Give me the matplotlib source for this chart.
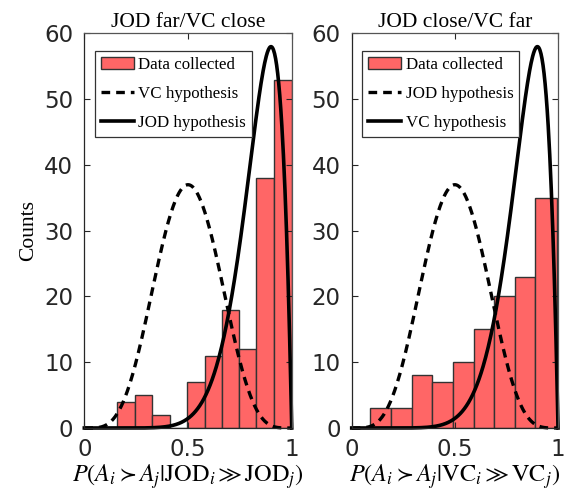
import numpy as np
import matplotlib
matplotlib.use("Agg")
import matplotlib.pyplot as plt

# ---------------- data ----------------
left_title = "JOD far/VC close"
right_title = "JOD close/VC far"

left_edges = [0.158, 0.244, 0.326, 0.413, 0.495, 0.581, 0.664, 0.746, 0.828, 0.915, 1.0]
left_counts = [4, 5, 2, 0, 7, 11, 18, 12, 38, 53]

right_edges = [0.090, 0.191, 0.290, 0.390, 0.491, 0.592, 0.691, 0.792, 0.890, 0.993]
right_counts = [3, 3, 8, 7, 10, 15, 20, 23, 35]

# hypothesis curves: scaled beta densities (shape a, shape b, peak count)
null_shape = (5.5, 5.5)
null_peak = 37.0
alt_shape = (10.0, 2.0)
alt_peak = 58.0

left_legend = ["Data collected", "VC hypothesis", "JOD hypothesis"]
right_legend = ["Data collected", "JOD hypothesis", "VC hypothesis"]

left_xlabel = r"$P(A_i \succ A_j|\mathrm{JOD}_i \gg \mathrm{JOD}_j)$"
right_xlabel = r"$P(A_i \succ A_j|\mathrm{VC}_i \gg \mathrm{VC}_j)$"
ylabel = "Counts"

xticks = [0, 0.5, 1]
xticklabels = ["0", "0.5", "1"]
yticks = [0, 10, 20, 30, 40, 50, 60]


def beta_curve(x, a, b, peak):
    y = x ** (a - 1) * (1 - x) ** (b - 1)
    return y / y.max() * peak


plt.rcParams["mathtext.fontset"] = "stix"
fig = plt.figure(figsize=(5.69, 4.91), dpi=100)

ax_pos = [[0.1482, 0.1283, 0.3645, 0.8035], [0.6181, 0.1283, 0.3626, 0.8035]]
serif = "Liberation Serif"
edge_gray = "#262626"

xs = np.linspace(0, 1, 400)

panels = [
    (left_title, left_edges, left_counts, left_legend, left_xlabel),
    (right_title, right_edges, right_counts, right_legend, right_xlabel),
]

for i, (title, edges, counts, legend_labels, xlabel) in enumerate(panels):
    ax = fig.add_axes(ax_pos[i])
    ax.hist(edges[:-1], bins=edges, weights=counts, color="#FF6666",
            edgecolor="#333333", linewidth=1.0, label=legend_labels[0])
    ax.plot(xs, beta_curve(xs, *null_shape, null_peak), color="black",
            linestyle=(0, (2.6, 1.8)), linewidth=2.4, clip_on=False,
            label=legend_labels[1])
    ax.plot(xs, beta_curve(xs, *alt_shape, alt_peak), color="black",
            linestyle="-", linewidth=2.6, clip_on=False,
            label=legend_labels[2])
    ax.set_xlim(0, 1)
    ax.set_ylim(0, 60)
    ax.set_xticks(xticks)
    ax.set_xticklabels(xticklabels)
    ax.set_yticks(yticks)
    ax.tick_params(direction="in", length=4, width=0.8, colors=edge_gray,
                   labelsize=16.5, top=True, right=True, pad=8)
    ax.tick_params(axis="x", pad=7)
    for lab in ax.get_xticklabels() + ax.get_yticklabels():
        lab.set_color("#262626")
        lab.set_family("DejaVu Sans")
    for s in ax.spines.values():
        s.set_color("#555555")
        s.set_linewidth(0.9)
    ax.spines["left"].set_color(edge_gray)
    ax.spines["bottom"].set_color(edge_gray)
    ax.set_title(title, fontfamily=serif, fontsize=15.5, pad=5)
    ax.set_xlabel(xlabel, fontsize=17.5, labelpad=1)
    if i == 0:
        ax.set_ylabel(ylabel, fontfamily=serif, fontsize=15.5, labelpad=4)
    leg = ax.legend(loc="upper left", bbox_to_anchor=(0.0516, 0.9556),
                    borderaxespad=0, prop={"family": serif, "size": 12.2},
                    handlelength=1.95, handletextpad=0.25, labelspacing=0.78,
                    borderpad=0.35, fancybox=False, framealpha=1,
                    edgecolor="#333333")
    leg.get_frame().set_linewidth(0.9)

fig.savefig("out.png", dpi=100)
